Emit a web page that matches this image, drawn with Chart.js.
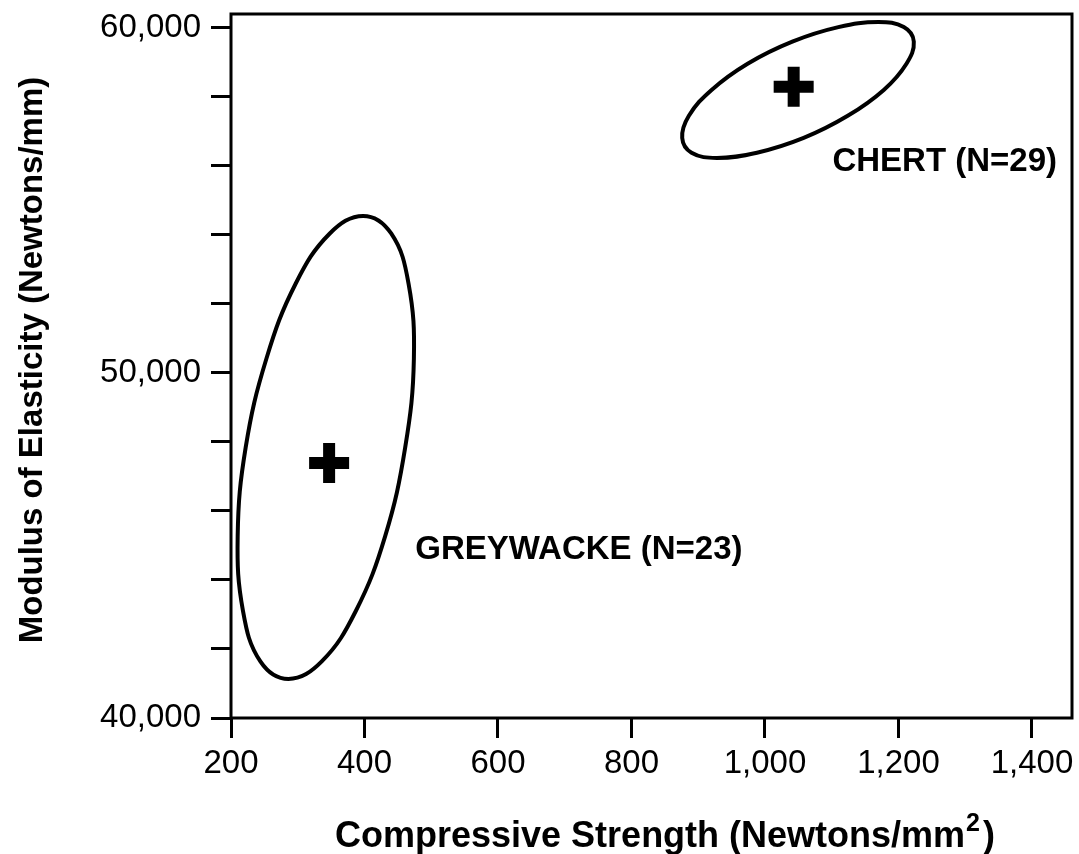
<!DOCTYPE html>
<html>
<head>
<meta charset="utf-8">
<script src="https://cdn.jsdelivr.net/npm/chart.js@4.4.0/dist/chart.umd.min.js"></script>
<style>
  body { margin: 0; background: #fff; }
  #wrap { width: 1079px; height: 854px; }
</style>
</head>
<body>
<div id="wrap"><canvas id="chart"></canvas></div>
<script>
// rock groups, mean point (cross) and label position
const groups = ['GREYWACKE (N=23)', 'CHERT (N=29)'];
const meanX = [347, 1043];
const meanY = [47390, 58290];
const labelX = [476, 1101];
const labelY = [44870, 56116];

// outline points, going round clockwise from the top
const greyX = [398, 440, 466, 474, 461, 431, 387, 336, 286, 244, 218, 210, 222, 253, 297, 348];
const greyY = [54550, 54040, 52590, 50410, 47840, 45270, 43100, 41640, 41130, 41640, 43100, 45270, 47840, 50410, 52590, 54040];
const chertX = [1170, 1208, 1223, 1212, 1178, 1124, 1058, 988, 928, 890, 876, 886, 920, 974, 1041, 1110];
const chertY = [60170, 60020, 59600, 58960, 58200, 57450, 56810, 56380, 56230, 56380, 56810, 57450, 58200, 58960, 59600, 60020];

const xTicks = [200, 400, 600, 800, 1000, 1200, 1400];
const yTickMarks = [40000, 42000, 44000, 46000, 48000, 50000, 52000, 54000, 56000, 58000, 60000];
const yTicks = [40000, 50000, 60000];
const xTitle = 'Compressive Strength (Newtons/mm';
const yTitle = 'Modulus of Elasticity (Newtons/mm)';

const FONT = "'Liberation Sans', Arial, sans-serif";
Chart.defaults.font.family = FONT;
Chart.defaults.color = '#000';

// closed smooth outline: pad with one point on each side, hide the padding segments
function outline(xs, ys) {
    const pts = xs.map((x, i) => ({ x: x, y: ys[i] }));
    const n = pts.length;
    const data = [pts[n - 1], ...pts, pts[0], pts[1]];
    const last = data.length - 1;
    return {
        data: data,
        showLine: true,
        tension: 0.4,
        pointRadius: 0,
        borderWidth: 4,
        borderColor: '#000',
        segment: {
            borderColor: c => (c.p0DataIndex === 0 || c.p1DataIndex === last) ? 'rgba(0,0,0,0)' : '#000'
        }
    };
}

const fmt = new Intl.NumberFormat('en-US');

const textPlugin = {
    id: 'textPlugin',
    afterDraw(chart) {
        const ctx = chart.ctx;
        const a = chart.chartArea;
        const xs = chart.scales.x, ys = chart.scales.y;

        // frame
        ctx.save();
        ctx.strokeStyle = '#000';
        ctx.lineWidth = 3;
        ctx.strokeRect(a.left, a.top, a.right - a.left, a.bottom - a.top);

        // group labels
        ctx.fillStyle = '#000';
        ctx.font = 'bold 33px ' + FONT;
        ctx.textAlign = 'left';
        ctx.textBaseline = 'middle';
        groups.forEach((g, i) => {
            ctx.fillText(g, xs.getPixelForValue(labelX[i]), ys.getPixelForValue(labelY[i]));
        });

        // y title
        ctx.save();
        ctx.translate(33, 360);
        ctx.rotate(-Math.PI / 2);
        ctx.textAlign = 'center';
        ctx.font = 'bold 33px ' + FONT;
        ctx.fillText(yTitle, 0, 0);
        ctx.restore();

        // x title with superscript 2
        ctx.textAlign = 'left';
        ctx.textBaseline = 'alphabetic';
        ctx.font = 'bold 36px ' + FONT;
        const w1 = ctx.measureText(xTitle).width;
        const w3 = ctx.measureText(')').width;
        ctx.font = 'bold 25px ' + FONT;
        const w2 = ctx.measureText('2').width;
        const x0 = 665 - (w1 + w2 + 4 + w3) / 2;
        ctx.font = 'bold 36px ' + FONT;
        ctx.fillText(xTitle, x0, 847);
        ctx.fillText(')', x0 + w1 + w2 + 4, 847);
        ctx.font = 'bold 25px ' + FONT;
        ctx.fillText('2', x0 + w1 + 1, 831);
        ctx.restore();
    }
};

new Chart(document.getElementById('chart'), {
    type: 'scatter',
    data: {
        datasets: [
            outline(greyX, greyY),
            outline(chertX, chertY),
            {
                data: meanX.map((x, i) => ({ x: x, y: meanY[i] })),
                pointStyle: 'cross',
                pointRadius: 20,
                borderWidth: 12,
                borderColor: '#000',
                backgroundColor: '#000'
            }
        ]
    },
    options: {
        responsive: true,
        maintainAspectRatio: false,
        animation: false,
        layout: { autoPadding: false, padding: { top: 14, right: 7, left: 0, bottom: 0 } },
        plugins: { legend: { display: false }, tooltip: { enabled: false } },
        scales: {
            x: {
                type: 'linear',
                min: 200,
                max: 1460,
                afterBuildTicks: s => { s.ticks = xTicks.map(v => ({ value: v })); },
                afterFit: s => { s.height = 136; s.paddingLeft = 0; s.paddingRight = 0; },
                ticks: {
                    autoSkip: false,
                    maxRotation: 0,
                    padding: 6,
                    font: { size: 33 },
                    callback: v => fmt.format(v)
                },
                grid: { drawOnChartArea: false, drawTicks: true, tickLength: 20, tickWidth: 3, color: '#000' },
                border: { display: false }
            },
            y: {
                type: 'linear',
                min: 40000,
                max: 60400,
                afterBuildTicks: s => { s.ticks = yTickMarks.map(v => ({ value: v })); },
                afterFit: s => { s.width = 231; s.paddingTop = 0; s.paddingBottom = 0; },
                ticks: {
                    autoSkip: false,
                    padding: 10,
                    font: { size: 33 },
                    callback: v => yTicks.includes(v) ? fmt.format(v) : ''
                },
                grid: { drawOnChartArea: false, drawTicks: true, tickLength: 20, tickWidth: 3, color: '#000' },
                border: { display: false }
            }
        }
    },
    plugins: [textPlugin]
});
</script>
</body>
</html>
